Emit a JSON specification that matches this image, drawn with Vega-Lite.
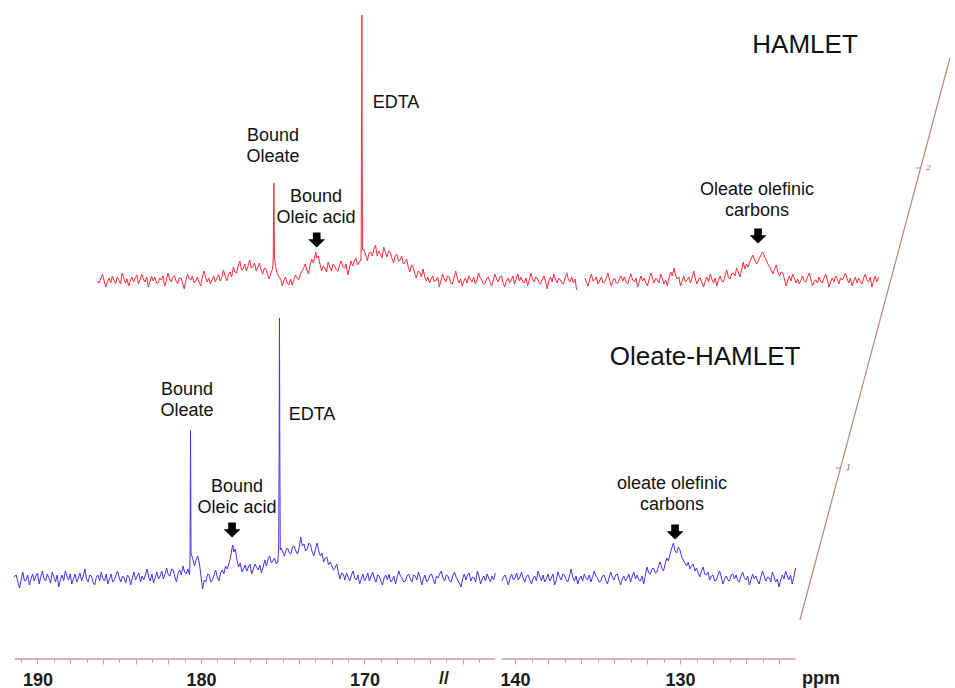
{
"$schema": "https://vega.github.io/schema/vega-lite/v6.json",
"width": 955, "height": 659,
"autosize": {"type": "none"},
"padding": {"left": 0, "top": 0, "right": 0, "bottom": 29},
"background": "white",
"config": {"view": {"stroke": null}},
"datasets": {
"blue": [
{"s":1,"x":191.45,"y":1},{"s":1,"x":191.3,"y":3},{"s":1,"x":191.2,"y":-4},{"s":1,"x":191.1,"y":-10},{"s":1,"x":191.0,"y":-2},{"s":1,"x":190.9,"y":6},{"s":1,"x":190.8,"y":-3},{"s":1,"x":190.7,"y":-2},{"s":1,"x":190.6,"y":3},{"s":1,"x":190.5,"y":-7},{"s":1,"x":190.4,"y":-1},{"s":1,"x":190.3,"y":4},{"s":1,"x":190.2,"y":-3},{"s":1,"x":190.1,"y":2},{"s":1,"x":190.0,"y":5},{"s":1,"x":189.9,"y":-6},{"s":1,"x":189.8,"y":1},{"s":1,"x":189.7,"y":7},{"s":1,"x":189.6,"y":-1},{"s":1,"x":189.5,"y":-3},{"s":1,"x":189.4,"y":4},{"s":1,"x":189.3,"y":0},{"s":1,"x":189.2,"y":-5},{"s":1,"x":189.1,"y":6},{"s":1,"x":189.0,"y":1},{"s":1,"x":188.9,"y":-4},{"s":1,"x":188.8,"y":3},{"s":1,"x":188.7,"y":-9},{"s":1,"x":188.6,"y":-2},{"s":1,"x":188.5,"y":3},{"s":1,"x":188.4,"y":-3},{"s":1,"x":188.3,"y":7},{"s":1,"x":188.2,"y":2},{"s":1,"x":188.1,"y":-2},{"s":1,"x":188.0,"y":4},{"s":1,"x":187.9,"y":-6},{"s":1,"x":187.8,"y":-1},{"s":1,"x":187.7,"y":4},{"s":1,"x":187.6,"y":-4},{"s":1,"x":187.5,"y":0},{"s":1,"x":187.4,"y":5},{"s":1,"x":187.3,"y":-3},{"s":1,"x":187.2,"y":2},{"s":1,"x":187.1,"y":9},{"s":1,"x":187.0,"y":-1},{"s":1,"x":186.9,"y":-4},{"s":1,"x":186.8,"y":3},{"s":1,"x":186.7,"y":2},{"s":1,"x":186.6,"y":-4},{"s":1,"x":186.5,"y":-7},{"s":1,"x":186.4,"y":1},{"s":1,"x":186.3,"y":3},{"s":1,"x":186.2,"y":-3},{"s":1,"x":186.1,"y":6},{"s":1,"x":186.0,"y":-1},{"s":1,"x":185.9,"y":-3},{"s":1,"x":185.8,"y":4},{"s":1,"x":185.7,"y":-6},{"s":1,"x":185.6,"y":-1},{"s":1,"x":185.5,"y":4},{"s":1,"x":185.4,"y":-4},{"s":1,"x":185.3,"y":-2},{"s":1,"x":185.2,"y":3},{"s":1,"x":185.1,"y":7},{"s":1,"x":185.0,"y":0},{"s":1,"x":184.9,"y":-4},{"s":1,"x":184.8,"y":2},{"s":1,"x":184.7,"y":0},{"s":1,"x":184.6,"y":-5},{"s":1,"x":184.5,"y":3},{"s":1,"x":184.4,"y":1},{"s":1,"x":184.3,"y":-7},{"s":1,"x":184.2,"y":0},{"s":1,"x":184.1,"y":6},{"s":1,"x":184.0,"y":-2},{"s":1,"x":183.9,"y":2},{"s":1,"x":183.8,"y":5},{"s":1,"x":183.7,"y":-4},{"s":1,"x":183.6,"y":2},{"s":1,"x":183.5,"y":-2},{"s":1,"x":183.4,"y":3},{"s":1,"x":183.3,"y":9},{"s":1,"x":183.2,"y":1},{"s":1,"x":183.1,"y":-3},{"s":1,"x":183.0,"y":4},{"s":1,"x":182.9,"y":-5},{"s":1,"x":182.8,"y":0},{"s":1,"x":182.7,"y":6},{"s":1,"x":182.6,"y":-1},{"s":1,"x":182.5,"y":2},{"s":1,"x":182.4,"y":7},{"s":1,"x":182.3,"y":-1},{"s":1,"x":182.2,"y":4},{"s":1,"x":182.1,"y":10},{"s":1,"x":182.0,"y":3},{"s":1,"x":181.9,"y":2},{"s":1,"x":181.8,"y":9},{"s":1,"x":181.7,"y":8},{"s":1,"x":181.6,"y":1},{"s":1,"x":181.5,"y":-4},{"s":1,"x":181.4,"y":5},{"s":1,"x":181.3,"y":8},{"s":1,"x":181.2,"y":3},{"s":1,"x":181.1,"y":12},{"s":1,"x":181.0,"y":6},{"s":1,"x":180.9,"y":4},{"s":1,"x":180.8,"y":9},{"s":1,"x":180.7,"y":3},{"s":1,"x":180.67,"y":20},{"s":1,"x":180.64,"y":148},{"s":1,"x":180.61,"y":25},{"s":1,"x":180.5,"y":19},{"s":1,"x":180.4,"y":12},{"s":1,"x":180.3,"y":18},{"s":1,"x":180.2,"y":22},{"s":1,"x":180.1,"y":15},{"s":1,"x":180.0,"y":2},{"s":1,"x":179.9,"y":-11},{"s":1,"x":179.8,"y":-2},{"s":1,"x":179.7,"y":-4},{"s":1,"x":179.6,"y":4},{"s":1,"x":179.5,"y":3},{"s":1,"x":179.4,"y":-4},{"s":1,"x":179.3,"y":-2},{"s":1,"x":179.2,"y":3},{"s":1,"x":179.1,"y":8},{"s":1,"x":179.0,"y":1},{"s":1,"x":178.9,"y":-3},{"s":1,"x":178.8,"y":5},{"s":1,"x":178.7,"y":8},{"s":1,"x":178.6,"y":4},{"s":1,"x":178.5,"y":12},{"s":1,"x":178.4,"y":9},{"s":1,"x":178.3,"y":14},{"s":1,"x":178.2,"y":20},{"s":1,"x":178.1,"y":30},{"s":1,"x":178.05,"y":33},{"s":1,"x":178.0,"y":26},{"s":1,"x":177.9,"y":29},{"s":1,"x":177.8,"y":18},{"s":1,"x":177.7,"y":11},{"s":1,"x":177.6,"y":15},{"s":1,"x":177.5,"y":6},{"s":1,"x":177.4,"y":9},{"s":1,"x":177.3,"y":13},{"s":1,"x":177.2,"y":7},{"s":1,"x":177.1,"y":11},{"s":1,"x":177.0,"y":14},{"s":1,"x":176.9,"y":4},{"s":1,"x":176.8,"y":9},{"s":1,"x":176.7,"y":14},{"s":1,"x":176.6,"y":11},{"s":1,"x":176.5,"y":8},{"s":1,"x":176.4,"y":13},{"s":1,"x":176.3,"y":5},{"s":1,"x":176.2,"y":11},{"s":1,"x":176.1,"y":18},{"s":1,"x":176.0,"y":12},{"s":1,"x":175.9,"y":19},{"s":1,"x":175.8,"y":22},{"s":1,"x":175.7,"y":15},{"s":1,"x":175.6,"y":17},{"s":1,"x":175.5,"y":20},{"s":1,"x":175.4,"y":14},{"s":1,"x":175.3,"y":16},{"s":1,"x":175.25,"y":30},{"s":1,"x":175.22,"y":130},{"s":1,"x":175.2,"y":260},{"s":1,"x":175.18,"y":130},{"s":1,"x":175.15,"y":28},{"s":1,"x":175.1,"y":30},{"s":1,"x":175.0,"y":26},{"s":1,"x":174.9,"y":22},{"s":1,"x":174.8,"y":28},{"s":1,"x":174.7,"y":30},{"s":1,"x":174.6,"y":25},{"s":1,"x":174.5,"y":24},{"s":1,"x":174.4,"y":31},{"s":1,"x":174.3,"y":32},{"s":1,"x":174.2,"y":27},{"s":1,"x":174.1,"y":24},{"s":1,"x":174.0,"y":30},{"s":1,"x":173.9,"y":41},{"s":1,"x":173.8,"y":32},{"s":1,"x":173.7,"y":34},{"s":1,"x":173.6,"y":27},{"s":1,"x":173.5,"y":29},{"s":1,"x":173.4,"y":35},{"s":1,"x":173.3,"y":33},{"s":1,"x":173.2,"y":26},{"s":1,"x":173.1,"y":22},{"s":1,"x":173.0,"y":29},{"s":1,"x":172.9,"y":35},{"s":1,"x":172.8,"y":27},{"s":1,"x":172.7,"y":22},{"s":1,"x":172.6,"y":25},{"s":1,"x":172.5,"y":16},{"s":1,"x":172.4,"y":20},{"s":1,"x":172.3,"y":21},{"s":1,"x":172.2,"y":13},{"s":1,"x":172.1,"y":16},{"s":1,"x":172.0,"y":12},{"s":1,"x":171.9,"y":8},{"s":1,"x":171.8,"y":10},{"s":1,"x":171.7,"y":14},{"s":1,"x":171.6,"y":6},{"s":1,"x":171.5,"y":-1},{"s":1,"x":171.4,"y":5},{"s":1,"x":171.3,"y":4},{"s":1,"x":171.2,"y":-2},{"s":1,"x":171.1,"y":5},{"s":1,"x":171.0,"y":1},{"s":1,"x":170.9,"y":-3},{"s":1,"x":170.8,"y":3},{"s":1,"x":170.7,"y":7},{"s":1,"x":170.6,"y":0},{"s":1,"x":170.5,"y":-2},{"s":1,"x":170.4,"y":3},{"s":1,"x":170.3,"y":-6},{"s":1,"x":170.2,"y":-1},{"s":1,"x":170.1,"y":4},{"s":1,"x":170.0,"y":-3},{"s":1,"x":169.9,"y":0},{"s":1,"x":169.8,"y":5},{"s":1,"x":169.7,"y":-3},{"s":1,"x":169.6,"y":2},{"s":1,"x":169.5,"y":6},{"s":1,"x":169.4,"y":0},{"s":1,"x":169.3,"y":-4},{"s":1,"x":169.2,"y":3},{"s":1,"x":169.1,"y":2},{"s":1,"x":169.0,"y":-3},{"s":1,"x":168.9,"y":-7},{"s":1,"x":168.8,"y":0},{"s":1,"x":168.7,"y":3},{"s":1,"x":168.6,"y":-2},{"s":1,"x":168.5,"y":4},{"s":1,"x":168.4,"y":-4},{"s":1,"x":168.3,"y":-2},{"s":1,"x":168.2,"y":2},{"s":1,"x":168.1,"y":-6},{"s":1,"x":168.0,"y":1},{"s":1,"x":167.9,"y":7},{"s":1,"x":167.8,"y":2},{"s":1,"x":167.7,"y":0},{"s":1,"x":167.6,"y":-4},{"s":1,"x":167.5,"y":-3},{"s":1,"x":167.4,"y":2},{"s":1,"x":167.3,"y":4},{"s":1,"x":167.2,"y":-1},{"s":1,"x":167.1,"y":-4},{"s":1,"x":167.0,"y":3},{"s":1,"x":166.9,"y":2},{"s":1,"x":166.8,"y":-2},{"s":1,"x":166.7,"y":6},{"s":1,"x":166.6,"y":1},{"s":1,"x":166.5,"y":-7},{"s":1,"x":166.4,"y":-1},{"s":1,"x":166.3,"y":3},{"s":1,"x":166.2,"y":-4},{"s":1,"x":166.1,"y":-2},{"s":1,"x":166.0,"y":3},{"s":1,"x":165.9,"y":4},{"s":1,"x":165.8,"y":-1},{"s":1,"x":165.7,"y":-6},{"s":1,"x":165.6,"y":2},{"s":1,"x":165.5,"y":0},{"s":1,"x":165.4,"y":4},{"s":1,"x":165.3,"y":7},{"s":1,"x":165.2,"y":0},{"s":1,"x":165.1,"y":-3},{"s":1,"x":165.0,"y":3},{"s":1,"x":164.9,"y":2},{"s":1,"x":164.8,"y":-3},{"s":1,"x":164.7,"y":-4},{"s":1,"x":164.6,"y":2},{"s":1,"x":164.5,"y":6},{"s":1,"x":164.4,"y":1},{"s":1,"x":164.3,"y":-2},{"s":1,"x":164.2,"y":-5},{"s":1,"x":164.1,"y":-9},{"s":1,"x":164.0,"y":-1},{"s":1,"x":163.9,"y":4},{"s":1,"x":163.8,"y":-2},{"s":1,"x":163.7,"y":3},{"s":1,"x":163.6,"y":5},{"s":1,"x":163.5,"y":-3},{"s":1,"x":163.4,"y":1},{"s":1,"x":163.3,"y":0},{"s":1,"x":163.2,"y":-4},{"s":1,"x":163.1,"y":7},{"s":1,"x":163.0,"y":2},{"s":1,"x":162.9,"y":-6},{"s":1,"x":162.8,"y":-1},{"s":1,"x":162.7,"y":2},{"s":1,"x":162.6,"y":-3},{"s":1,"x":162.5,"y":4},{"s":1,"x":162.4,"y":0},{"s":1,"x":162.3,"y":-4},{"s":1,"x":162.2,"y":2},{"s":1,"x":162.1,"y":-2},{"s":1,"x":162.0,"y":5},
{"s":2,"x":140.8,"y":-3},{"s":2,"x":140.7,"y":1},{"s":2,"x":140.6,"y":3},{"s":2,"x":140.5,"y":-2},{"s":2,"x":140.4,"y":-7},{"s":2,"x":140.3,"y":0},{"s":2,"x":140.2,"y":4},{"s":2,"x":140.1,"y":-2},{"s":2,"x":140.0,"y":0},{"s":2,"x":139.9,"y":5},{"s":2,"x":139.8,"y":-2},{"s":2,"x":139.7,"y":1},{"s":2,"x":139.6,"y":6},{"s":2,"x":139.5,"y":-1},{"s":2,"x":139.4,"y":-4},{"s":2,"x":139.3,"y":2},{"s":2,"x":139.2,"y":3},{"s":2,"x":139.1,"y":-2},{"s":2,"x":139.0,"y":-6},{"s":2,"x":138.9,"y":0},{"s":2,"x":138.8,"y":2},{"s":2,"x":138.7,"y":-3},{"s":2,"x":138.6,"y":7},{"s":2,"x":138.5,"y":2},{"s":2,"x":138.4,"y":-3},{"s":2,"x":138.3,"y":3},{"s":2,"x":138.2,"y":-4},{"s":2,"x":138.1,"y":-1},{"s":2,"x":138.0,"y":4},{"s":2,"x":137.9,"y":-3},{"s":2,"x":137.8,"y":0},{"s":2,"x":137.7,"y":4},{"s":2,"x":137.6,"y":-7},{"s":2,"x":137.5,"y":-2},{"s":2,"x":137.4,"y":6},{"s":2,"x":137.3,"y":1},{"s":2,"x":137.2,"y":-2},{"s":2,"x":137.1,"y":4},{"s":2,"x":137.0,"y":3},{"s":2,"x":136.9,"y":-2},{"s":2,"x":136.8,"y":-4},{"s":2,"x":136.7,"y":2},{"s":2,"x":136.6,"y":9},{"s":2,"x":136.5,"y":1},{"s":2,"x":136.4,"y":-3},{"s":2,"x":136.3,"y":2},{"s":2,"x":136.2,"y":-6},{"s":2,"x":136.1,"y":-1},{"s":2,"x":136.0,"y":2},{"s":2,"x":135.9,"y":-3},{"s":2,"x":135.8,"y":4},{"s":2,"x":135.7,"y":0},{"s":2,"x":135.6,"y":-2},{"s":2,"x":135.5,"y":3},{"s":2,"x":135.4,"y":-4},{"s":2,"x":135.3,"y":1},{"s":2,"x":135.2,"y":7},{"s":2,"x":135.1,"y":2},{"s":2,"x":135.0,"y":0},{"s":2,"x":134.9,"y":-4},{"s":2,"x":134.8,"y":-3},{"s":2,"x":134.7,"y":2},{"s":2,"x":134.6,"y":3},{"s":2,"x":134.5,"y":-2},{"s":2,"x":134.4,"y":-6},{"s":2,"x":134.3,"y":0},{"s":2,"x":134.2,"y":6},{"s":2,"x":134.1,"y":1},{"s":2,"x":134.0,"y":-2},{"s":2,"x":133.9,"y":3},{"s":2,"x":133.8,"y":4},{"s":2,"x":133.7,"y":-2},{"s":2,"x":133.6,"y":-7},{"s":2,"x":133.5,"y":-1},{"s":2,"x":133.4,"y":2},{"s":2,"x":133.3,"y":-3},{"s":2,"x":133.2,"y":0},{"s":2,"x":133.1,"y":4},{"s":2,"x":133.0,"y":-4},{"s":2,"x":132.9,"y":1},{"s":2,"x":132.8,"y":6},{"s":2,"x":132.7,"y":-1},{"s":2,"x":132.6,"y":3},{"s":2,"x":132.5,"y":-2},{"s":2,"x":132.4,"y":-3},{"s":2,"x":132.3,"y":2},{"s":2,"x":132.2,"y":-6},{"s":2,"x":132.1,"y":3},{"s":2,"x":132.0,"y":11},{"s":2,"x":131.9,"y":5},{"s":2,"x":131.8,"y":4},{"s":2,"x":131.7,"y":9},{"s":2,"x":131.6,"y":10},{"s":2,"x":131.5,"y":5},{"s":2,"x":131.4,"y":6},{"s":2,"x":131.3,"y":12},{"s":2,"x":131.2,"y":16},{"s":2,"x":131.1,"y":10},{"s":2,"x":131.0,"y":7},{"s":2,"x":130.9,"y":14},{"s":2,"x":130.8,"y":20},{"s":2,"x":130.7,"y":17},{"s":2,"x":130.6,"y":24},{"s":2,"x":130.5,"y":30},{"s":2,"x":130.4,"y":35},{"s":2,"x":130.3,"y":27},{"s":2,"x":130.2,"y":25},{"s":2,"x":130.1,"y":31},{"s":2,"x":130.0,"y":28},{"s":2,"x":129.9,"y":21},{"s":2,"x":129.8,"y":18},{"s":2,"x":129.7,"y":15},{"s":2,"x":129.6,"y":12},{"s":2,"x":129.5,"y":16},{"s":2,"x":129.4,"y":9},{"s":2,"x":129.3,"y":12},{"s":2,"x":129.2,"y":14},{"s":2,"x":129.1,"y":7},{"s":2,"x":129.0,"y":10},{"s":2,"x":128.9,"y":5},{"s":2,"x":128.8,"y":1},{"s":2,"x":128.7,"y":7},{"s":2,"x":128.6,"y":11},{"s":2,"x":128.5,"y":4},{"s":2,"x":128.4,"y":3},{"s":2,"x":128.3,"y":6},{"s":2,"x":128.2,"y":-2},{"s":2,"x":128.1,"y":2},{"s":2,"x":128.0,"y":3},{"s":2,"x":127.9,"y":-3},{"s":2,"x":127.8,"y":-2},{"s":2,"x":127.7,"y":3},{"s":2,"x":127.6,"y":7},{"s":2,"x":127.5,"y":1},{"s":2,"x":127.4,"y":-6},{"s":2,"x":127.3,"y":-1},{"s":2,"x":127.2,"y":2},{"s":2,"x":127.1,"y":-2},{"s":2,"x":127.0,"y":-3},{"s":2,"x":126.9,"y":3},{"s":2,"x":126.8,"y":4},{"s":2,"x":126.7,"y":-1},{"s":2,"x":126.6,"y":3},{"s":2,"x":126.5,"y":-3},{"s":2,"x":126.4,"y":-4},{"s":2,"x":126.3,"y":2},{"s":2,"x":126.2,"y":6},{"s":2,"x":126.1,"y":0},{"s":2,"x":126.0,"y":-2},{"s":2,"x":125.9,"y":2},{"s":2,"x":125.8,"y":-7},{"s":2,"x":125.7,"y":-2},{"s":2,"x":125.6,"y":4},{"s":2,"x":125.5,"y":-1},{"s":2,"x":125.4,"y":2},{"s":2,"x":125.3,"y":-3},{"s":2,"x":125.2,"y":-6},{"s":2,"x":125.1,"y":1},{"s":2,"x":125.0,"y":7},{"s":2,"x":124.9,"y":2},{"s":2,"x":124.8,"y":-3},{"s":2,"x":124.7,"y":1},{"s":2,"x":124.6,"y":0},{"s":2,"x":124.5,"y":-4},{"s":2,"x":124.4,"y":6},{"s":2,"x":124.3,"y":1},{"s":2,"x":124.2,"y":-4},{"s":2,"x":124.1,"y":-1},{"s":2,"x":124.0,"y":-9},{"s":2,"x":123.9,"y":-2},{"s":2,"x":123.8,"y":3},{"s":2,"x":123.7,"y":-1},{"s":2,"x":123.6,"y":7},{"s":2,"x":123.5,"y":2},{"s":2,"x":123.4,"y":-2},{"s":2,"x":123.3,"y":3},{"s":2,"x":123.2,"y":-6},{"s":2,"x":123.1,"y":1},{"s":2,"x":123.0,"y":10}
],
"red": [
{"s":1,"x":191.45,"y":-1},{"s":1,"x":191.3,"y":-3},{"s":1,"x":191.2,"y":2},{"s":1,"x":191.1,"y":6},{"s":1,"x":191.0,"y":-1},{"s":1,"x":190.9,"y":-7},{"s":1,"x":190.8,"y":-2},{"s":1,"x":190.7,"y":2},{"s":1,"x":190.6,"y":-3},{"s":1,"x":190.5,"y":4},{"s":1,"x":190.4,"y":0},{"s":1,"x":190.3,"y":-4},{"s":1,"x":190.2,"y":3},{"s":1,"x":190.1,"y":0},{"s":1,"x":190.0,"y":-4},{"s":1,"x":189.9,"y":7},{"s":1,"x":189.8,"y":2},{"s":1,"x":189.7,"y":-3},{"s":1,"x":189.6,"y":1},{"s":1,"x":189.5,"y":-6},{"s":1,"x":189.4,"y":-1},{"s":1,"x":189.3,"y":3},{"s":1,"x":189.2,"y":-2},{"s":1,"x":189.1,"y":2},{"s":1,"x":189.0,"y":5},{"s":1,"x":188.9,"y":-4},{"s":1,"x":188.8,"y":0},{"s":1,"x":188.7,"y":6},{"s":1,"x":188.6,"y":1},{"s":1,"x":188.5,"y":-2},{"s":1,"x":188.4,"y":3},{"s":1,"x":188.3,"y":-7},{"s":1,"x":188.2,"y":-2},{"s":1,"x":188.1,"y":4},{"s":1,"x":188.0,"y":-1},{"s":1,"x":187.9,"y":3},{"s":1,"x":187.8,"y":-3},{"s":1,"x":187.7,"y":-3},{"s":1,"x":187.6,"y":2},{"s":1,"x":187.5,"y":0},{"s":1,"x":187.4,"y":4},{"s":1,"x":187.3,"y":-6},{"s":1,"x":187.2,"y":-1},{"s":1,"x":187.1,"y":7},{"s":1,"x":187.0,"y":1},{"s":1,"x":186.9,"y":-2},{"s":1,"x":186.8,"y":3},{"s":1,"x":186.7,"y":4},{"s":1,"x":186.6,"y":-1},{"s":1,"x":186.5,"y":-4},{"s":1,"x":186.4,"y":2},{"s":1,"x":186.3,"y":2},{"s":1,"x":186.2,"y":-3},{"s":1,"x":186.1,"y":-9},{"s":1,"x":186.0,"y":0},{"s":1,"x":185.9,"y":6},{"s":1,"x":185.8,"y":1},{"s":1,"x":185.7,"y":0},{"s":1,"x":185.6,"y":4},{"s":1,"x":185.5,"y":-3},{"s":1,"x":185.4,"y":-1},{"s":1,"x":185.3,"y":3},{"s":1,"x":185.2,"y":-2},{"s":1,"x":185.1,"y":-6},{"s":1,"x":185.0,"y":2},{"s":1,"x":184.9,"y":9},{"s":1,"x":184.8,"y":3},{"s":1,"x":184.7,"y":-2},{"s":1,"x":184.6,"y":2},{"s":1,"x":184.5,"y":-4},{"s":1,"x":184.4,"y":0},{"s":1,"x":184.3,"y":4},{"s":1,"x":184.2,"y":-2},{"s":1,"x":184.1,"y":2},{"s":1,"x":184.0,"y":5},{"s":1,"x":183.9,"y":-1},{"s":1,"x":183.8,"y":3},{"s":1,"x":183.7,"y":10},{"s":1,"x":183.6,"y":4},{"s":1,"x":183.5,"y":-1},{"s":1,"x":183.4,"y":5},{"s":1,"x":183.3,"y":8},{"s":1,"x":183.2,"y":3},{"s":1,"x":183.1,"y":13},{"s":1,"x":183.0,"y":8},{"s":1,"x":182.9,"y":7},{"s":1,"x":182.8,"y":14},{"s":1,"x":182.7,"y":19},{"s":1,"x":182.6,"y":10},{"s":1,"x":182.5,"y":11},{"s":1,"x":182.4,"y":16},{"s":1,"x":182.3,"y":9},{"s":1,"x":182.2,"y":14},{"s":1,"x":182.1,"y":20},{"s":1,"x":182.0,"y":12},{"s":1,"x":181.9,"y":13},{"s":1,"x":181.8,"y":17},{"s":1,"x":181.7,"y":9},{"s":1,"x":181.6,"y":13},{"s":1,"x":181.5,"y":17},{"s":1,"x":181.4,"y":10},{"s":1,"x":181.3,"y":6},{"s":1,"x":181.2,"y":12},{"s":1,"x":181.1,"y":11},{"s":1,"x":181.0,"y":5},{"s":1,"x":180.9,"y":1},{"s":1,"x":180.8,"y":7},{"s":1,"x":180.7,"y":11},{"s":1,"x":180.66,"y":20},{"s":1,"x":180.62,"y":97},{"s":1,"x":180.58,"y":22},{"s":1,"x":180.5,"y":12},{"s":1,"x":180.4,"y":6},{"s":1,"x":180.3,"y":3},{"s":1,"x":180.2,"y":1},{"s":1,"x":180.1,"y":-6},{"s":1,"x":180.0,"y":0},{"s":1,"x":179.9,"y":3},{"s":1,"x":179.8,"y":-3},{"s":1,"x":179.7,"y":-5},{"s":1,"x":179.6,"y":1},{"s":1,"x":179.5,"y":-5},{"s":1,"x":179.4,"y":0},{"s":1,"x":179.3,"y":5},{"s":1,"x":179.2,"y":2},{"s":1,"x":179.1,"y":0},{"s":1,"x":179.0,"y":6},{"s":1,"x":178.9,"y":9},{"s":1,"x":178.8,"y":12},{"s":1,"x":178.7,"y":16},{"s":1,"x":178.6,"y":10},{"s":1,"x":178.5,"y":6},{"s":1,"x":178.4,"y":15},{"s":1,"x":178.3,"y":21},{"s":1,"x":178.2,"y":17},{"s":1,"x":178.1,"y":25},{"s":1,"x":178.05,"y":28},{"s":1,"x":178.0,"y":22},{"s":1,"x":177.9,"y":24},{"s":1,"x":177.8,"y":16},{"s":1,"x":177.7,"y":9},{"s":1,"x":177.6,"y":14},{"s":1,"x":177.5,"y":12},{"s":1,"x":177.4,"y":8},{"s":1,"x":177.3,"y":18},{"s":1,"x":177.2,"y":13},{"s":1,"x":177.1,"y":9},{"s":1,"x":177.0,"y":16},{"s":1,"x":176.9,"y":14},{"s":1,"x":176.8,"y":10},{"s":1,"x":176.7,"y":9},{"s":1,"x":176.6,"y":15},{"s":1,"x":176.5,"y":19},{"s":1,"x":176.4,"y":13},{"s":1,"x":176.3,"y":12},{"s":1,"x":176.2,"y":16},{"s":1,"x":176.1,"y":5},{"s":1,"x":176.0,"y":12},{"s":1,"x":175.9,"y":19},{"s":1,"x":175.8,"y":14},{"s":1,"x":175.7,"y":19},{"s":1,"x":175.6,"y":22},{"s":1,"x":175.5,"y":15},{"s":1,"x":175.4,"y":18},{"s":1,"x":175.3,"y":20},{"s":1,"x":175.28,"y":30},{"s":1,"x":175.26,"y":140},{"s":1,"x":175.24,"y":265},{"s":1,"x":175.22,"y":140},{"s":1,"x":175.19,"y":30},{"s":1,"x":175.1,"y":30},{"s":1,"x":175.0,"y":25},{"s":1,"x":174.9,"y":19},{"s":1,"x":174.8,"y":27},{"s":1,"x":174.7,"y":28},{"s":1,"x":174.6,"y":24},{"s":1,"x":174.5,"y":31},{"s":1,"x":174.4,"y":35},{"s":1,"x":174.3,"y":24},{"s":1,"x":174.2,"y":29},{"s":1,"x":174.1,"y":26},{"s":1,"x":174.0,"y":22},{"s":1,"x":173.9,"y":33},{"s":1,"x":173.8,"y":28},{"s":1,"x":173.7,"y":23},{"s":1,"x":173.6,"y":29},{"s":1,"x":173.5,"y":28},{"s":1,"x":173.4,"y":22},{"s":1,"x":173.3,"y":17},{"s":1,"x":173.2,"y":24},{"s":1,"x":173.1,"y":26},{"s":1,"x":173.0,"y":19},{"s":1,"x":172.9,"y":20},{"s":1,"x":172.8,"y":24},{"s":1,"x":172.7,"y":16},{"s":1,"x":172.6,"y":18},{"s":1,"x":172.5,"y":21},{"s":1,"x":172.4,"y":13},{"s":1,"x":172.3,"y":8},{"s":1,"x":172.2,"y":15},{"s":1,"x":172.1,"y":13},{"s":1,"x":172.0,"y":6},{"s":1,"x":171.9,"y":2},{"s":1,"x":171.8,"y":9},{"s":1,"x":171.7,"y":8},{"s":1,"x":171.6,"y":3},{"s":1,"x":171.5,"y":11},{"s":1,"x":171.4,"y":4},{"s":1,"x":171.3,"y":-1},{"s":1,"x":171.2,"y":3},{"s":1,"x":171.1,"y":-3},{"s":1,"x":171.0,"y":1},{"s":1,"x":170.9,"y":4},{"s":1,"x":170.8,"y":-2},{"s":1,"x":170.7,"y":0},{"s":1,"x":170.6,"y":3},{"s":1,"x":170.5,"y":-7},{"s":1,"x":170.4,"y":-1},{"s":1,"x":170.3,"y":6},{"s":1,"x":170.2,"y":1},{"s":1,"x":170.1,"y":-2},{"s":1,"x":170.0,"y":4},{"s":1,"x":169.9,"y":3},{"s":1,"x":169.8,"y":-3},{"s":1,"x":169.7,"y":-4},{"s":1,"x":169.6,"y":2},{"s":1,"x":169.5,"y":9},{"s":1,"x":169.4,"y":2},{"s":1,"x":169.3,"y":-3},{"s":1,"x":169.2,"y":1},{"s":1,"x":169.1,"y":-6},{"s":1,"x":169.0,"y":-1},{"s":1,"x":168.9,"y":2},{"s":1,"x":168.8,"y":-3},{"s":1,"x":168.7,"y":4},{"s":1,"x":168.6,"y":1},{"s":1,"x":168.5,"y":-2},{"s":1,"x":168.4,"y":3},{"s":1,"x":168.3,"y":-4},{"s":1,"x":168.2,"y":0},{"s":1,"x":168.1,"y":7},{"s":1,"x":168.0,"y":2},{"s":1,"x":167.9,"y":0},{"s":1,"x":167.8,"y":-4},{"s":1,"x":167.7,"y":-3},{"s":1,"x":167.6,"y":2},{"s":1,"x":167.5,"y":3},{"s":1,"x":167.4,"y":-2},{"s":1,"x":167.3,"y":-6},{"s":1,"x":167.2,"y":0},{"s":1,"x":167.1,"y":6},{"s":1,"x":167.0,"y":1},{"s":1,"x":166.9,"y":-2},{"s":1,"x":166.8,"y":3},{"s":1,"x":166.7,"y":4},{"s":1,"x":166.6,"y":-3},{"s":1,"x":166.5,"y":-7},{"s":1,"x":166.4,"y":-1},{"s":1,"x":166.3,"y":2},{"s":1,"x":166.2,"y":-3},{"s":1,"x":166.1,"y":0},{"s":1,"x":166.0,"y":4},{"s":1,"x":165.9,"y":-4},{"s":1,"x":165.8,"y":1},{"s":1,"x":165.7,"y":6},{"s":1,"x":165.6,"y":-1},{"s":1,"x":165.5,"y":3},{"s":1,"x":165.4,"y":-2},{"s":1,"x":165.3,"y":-3},{"s":1,"x":165.2,"y":2},{"s":1,"x":165.1,"y":-6},{"s":1,"x":165.0,"y":0},{"s":1,"x":164.9,"y":7},{"s":1,"x":164.8,"y":1},{"s":1,"x":164.7,"y":-2},{"s":1,"x":164.6,"y":3},{"s":1,"x":164.5,"y":2},{"s":1,"x":164.4,"y":-3},{"s":1,"x":164.3,"y":-4},{"s":1,"x":164.2,"y":1},{"s":1,"x":164.1,"y":4},{"s":1,"x":164.0,"y":-2},{"s":1,"x":163.9,"y":-9},{"s":1,"x":163.8,"y":-1},{"s":1,"x":163.7,"y":3},{"s":1,"x":163.6,"y":-2},{"s":1,"x":163.5,"y":6},{"s":1,"x":163.4,"y":1},{"s":1,"x":163.3,"y":-3},{"s":1,"x":163.2,"y":2},{"s":1,"x":163.1,"y":0},{"s":1,"x":163.0,"y":-3},{"s":1,"x":162.9,"y":-4},{"s":1,"x":162.8,"y":3},{"s":1,"x":162.7,"y":7},{"s":1,"x":162.6,"y":0},{"s":1,"x":162.5,"y":-2},{"s":1,"x":162.4,"y":3},{"s":1,"x":162.3,"y":-3},{"s":1,"x":162.2,"y":1},{"s":1,"x":162.1,"y":-10},
{"s":2,"x":140.8,"y":2},{"s":2,"x":140.7,"y":-2},{"s":2,"x":140.6,"y":-6},{"s":2,"x":140.5,"y":1},{"s":2,"x":140.4,"y":6},{"s":2,"x":140.3,"y":-1},{"s":2,"x":140.2,"y":0},{"s":2,"x":140.1,"y":3},{"s":2,"x":140.0,"y":-4},{"s":2,"x":139.9,"y":-1},{"s":2,"x":139.8,"y":3},{"s":2,"x":139.7,"y":-3},{"s":2,"x":139.6,"y":-2},{"s":2,"x":139.5,"y":2},{"s":2,"x":139.4,"y":7},{"s":2,"x":139.3,"y":0},{"s":2,"x":139.2,"y":-6},{"s":2,"x":139.1,"y":-1},{"s":2,"x":139.0,"y":2},{"s":2,"x":138.9,"y":-3},{"s":2,"x":138.8,"y":-3},{"s":2,"x":138.7,"y":1},{"s":2,"x":138.6,"y":4},{"s":2,"x":138.5,"y":-1},{"s":2,"x":138.4,"y":3},{"s":2,"x":138.3,"y":-2},{"s":2,"x":138.2,"y":-4},{"s":2,"x":138.1,"y":2},{"s":2,"x":138.0,"y":6},{"s":2,"x":137.9,"y":0},{"s":2,"x":137.8,"y":-2},{"s":2,"x":137.7,"y":2},{"s":2,"x":137.6,"y":-7},{"s":2,"x":137.5,"y":-2},{"s":2,"x":137.4,"y":4},{"s":2,"x":137.3,"y":-1},{"s":2,"x":137.2,"y":2},{"s":2,"x":137.1,"y":-3},{"s":2,"x":137.0,"y":-6},{"s":2,"x":136.9,"y":1},{"s":2,"x":136.8,"y":7},{"s":2,"x":136.7,"y":2},{"s":2,"x":136.6,"y":-3},{"s":2,"x":136.5,"y":2},{"s":2,"x":136.4,"y":0},{"s":2,"x":136.3,"y":-3},{"s":2,"x":136.2,"y":6},{"s":2,"x":136.1,"y":1},{"s":2,"x":136.0,"y":-4},{"s":2,"x":135.9,"y":0},{"s":2,"x":135.8,"y":-6},{"s":2,"x":135.7,"y":2},{"s":2,"x":135.6,"y":8},{"s":2,"x":135.5,"y":4},{"s":2,"x":135.4,"y":12},{"s":2,"x":135.3,"y":5},{"s":2,"x":135.2,"y":1},{"s":2,"x":135.1,"y":3},{"s":2,"x":135.0,"y":-6},{"s":2,"x":134.9,"y":-1},{"s":2,"x":134.8,"y":4},{"s":2,"x":134.7,"y":-2},{"s":2,"x":134.6,"y":0},{"s":2,"x":134.5,"y":3},{"s":2,"x":134.4,"y":-3},{"s":2,"x":134.3,"y":2},{"s":2,"x":134.2,"y":9},{"s":2,"x":134.1,"y":1},{"s":2,"x":134.0,"y":-4},{"s":2,"x":133.9,"y":1},{"s":2,"x":133.8,"y":2},{"s":2,"x":133.7,"y":-3},{"s":2,"x":133.6,"y":-7},{"s":2,"x":133.5,"y":-1},{"s":2,"x":133.4,"y":3},{"s":2,"x":133.3,"y":-2},{"s":2,"x":133.2,"y":6},{"s":2,"x":133.1,"y":1},{"s":2,"x":133.0,"y":-3},{"s":2,"x":132.9,"y":2},{"s":2,"x":132.8,"y":-6},{"s":2,"x":132.7,"y":0},{"s":2,"x":132.6,"y":4},{"s":2,"x":132.5,"y":-1},{"s":2,"x":132.4,"y":-2},{"s":2,"x":132.3,"y":4},{"s":2,"x":132.2,"y":10},{"s":2,"x":132.1,"y":3},{"s":2,"x":132.0,"y":1},{"s":2,"x":131.9,"y":6},{"s":2,"x":131.8,"y":7},{"s":2,"x":131.7,"y":4},{"s":2,"x":131.6,"y":12},{"s":2,"x":131.5,"y":8},{"s":2,"x":131.4,"y":3},{"s":2,"x":131.3,"y":10},{"s":2,"x":131.2,"y":18},{"s":2,"x":131.1,"y":11},{"s":2,"x":131.0,"y":16},{"s":2,"x":130.9,"y":13},{"s":2,"x":130.8,"y":18},{"s":2,"x":130.7,"y":22},{"s":2,"x":130.6,"y":25},{"s":2,"x":130.5,"y":20},{"s":2,"x":130.4,"y":16},{"s":2,"x":130.3,"y":19},{"s":2,"x":130.2,"y":22},{"s":2,"x":130.1,"y":26},{"s":2,"x":130.0,"y":28},{"s":2,"x":129.9,"y":23},{"s":2,"x":129.8,"y":20},{"s":2,"x":129.7,"y":16},{"s":2,"x":129.6,"y":13},{"s":2,"x":129.5,"y":10},{"s":2,"x":129.4,"y":6},{"s":2,"x":129.3,"y":11},{"s":2,"x":129.2,"y":15},{"s":2,"x":129.1,"y":8},{"s":2,"x":129.0,"y":4},{"s":2,"x":128.9,"y":8},{"s":2,"x":128.8,"y":7},{"s":2,"x":128.7,"y":1},{"s":2,"x":128.6,"y":-6},{"s":2,"x":128.5,"y":0},{"s":2,"x":128.4,"y":4},{"s":2,"x":128.3,"y":-1},{"s":2,"x":128.2,"y":6},{"s":2,"x":128.1,"y":2},{"s":2,"x":128.0,"y":-3},{"s":2,"x":127.9,"y":1},{"s":2,"x":127.8,"y":-4},{"s":2,"x":127.7,"y":0},{"s":2,"x":127.6,"y":4},{"s":2,"x":127.5,"y":-1},{"s":2,"x":127.4,"y":-2},{"s":2,"x":127.3,"y":3},{"s":2,"x":127.2,"y":7},{"s":2,"x":127.1,"y":1},{"s":2,"x":127.0,"y":-6},{"s":2,"x":126.9,"y":-1},{"s":2,"x":126.8,"y":0},{"s":2,"x":126.7,"y":-3},{"s":2,"x":126.6,"y":3},{"s":2,"x":126.5,"y":-2},{"s":2,"x":126.4,"y":-3},{"s":2,"x":126.3,"y":2},{"s":2,"x":126.2,"y":6},{"s":2,"x":126.1,"y":0},{"s":2,"x":126.0,"y":-7},{"s":2,"x":125.9,"y":-2},{"s":2,"x":125.8,"y":2},{"s":2,"x":125.7,"y":-2},{"s":2,"x":125.6,"y":4},{"s":2,"x":125.5,"y":1},{"s":2,"x":125.4,"y":-4},{"s":2,"x":125.3,"y":2},{"s":2,"x":125.2,"y":0},{"s":2,"x":125.1,"y":3},{"s":2,"x":125.0,"y":7},{"s":2,"x":124.9,"y":1},{"s":2,"x":124.8,"y":-3},{"s":2,"x":124.7,"y":2},{"s":2,"x":124.6,"y":-6},{"s":2,"x":124.5,"y":-1},{"s":2,"x":124.4,"y":3},{"s":2,"x":124.3,"y":-3},{"s":2,"x":124.2,"y":2},{"s":2,"x":124.1,"y":-2},{"s":2,"x":124.0,"y":-4},{"s":2,"x":123.9,"y":2},{"s":2,"x":123.8,"y":6},{"s":2,"x":123.7,"y":0},{"s":2,"x":123.6,"y":-2},{"s":2,"x":123.5,"y":3},{"s":2,"x":123.4,"y":-7},{"s":2,"x":123.3,"y":-1},{"s":2,"x":123.2,"y":4},{"s":2,"x":123.1,"y":-2},{"s":2,"x":123.0,"y":3}
]
},
"layer": [
{
"encoding": {
"x": {"field": "x", "type": "quantitative",
"scale": {"domain": [191.4, 162.0, 140.8, 123.0], "range": [14.6, 495.3, 501.8, 795.5], "nice": false, "zero": false},
"axis": {"title": null, "orient": "bottom", "domain": false, "grid": false,
"values": [191,190,189,188,187,186,185,184,183,182,181,180,179,178,177,176,175,174,173,172,171,170,169,168,167,166,165,164,163,140,139,138,137,136,135,134,133,132,131,130,129,128,127,126,125,124],
"format": "d", "labelExpr": "datum.value % 10 === 0 ? datum.label : ''",
"labelOverlap": false, "labelBound": false, "labelFlush": false,
"labelFont": "Liberation Sans", "labelFontWeight": "bold", "labelFontSize": 18, "labelColor": "#1a1a1a",
"labelPadding": 7,
"tickColor": "#c99c9c", "tickWidth": 1,
"tickSize": {"condition": {"test": "datum.value % 2 === 0", "value": 5}, "value": 3}}},
"y": {"field": "y", "type": "quantitative",
"scale": {"domain": [-81, 260], "range": [659, 318], "nice": false, "zero": false}, "axis": null}
},
"layer": [
{"data": {"name": "blue"}, "mark": {"type": "line", "color": "#4433ee", "strokeWidth": 1}, "encoding": {"detail": {"field": "s"}}},
{"data": {"values": [{"x": 191.4, "x2": 162.0, "y": -81}, {"x": 140.8, "x2": 123.0, "y": -81}]}, "mark": {"type": "rule", "color": "#c99c9c", "strokeWidth": 1.3}, "encoding": {"x2": {"field": "x2"}}},
{"data": {"values": [{"x": 122.73, "y": -42, "x2": 113.64, "y2": 520}]}, "mark": {"type": "rule", "color": "#b98585", "strokeWidth": 1.2}, "encoding": {"x2": {"field": "x2"}, "y2": {"field": "y2"}}},
{"data": {"values": [{"x": 115.72, "x2": 115.42, "y": 410}, {"x": 120.57, "x2": 120.27, "y": 110}]}, "mark": {"type": "rule", "color": "#b98585", "strokeWidth": 1}, "encoding": {"x2": {"field": "x2"}}},
{"data": {"values": [{"x": 115.09, "y": 410, "t": "2"}, {"x": 119.94, "y": 110, "t": "1"}]}, "mark": {"type": "text", "font": "DejaVu Serif", "fontStyle": "italic", "fontSize": 8, "color": "#8a6060", "align": "left", "baseline": "middle"}, "encoding": {"text": {"field": "t"}}},
{"data": {"values": [{"x": 165.14, "y": -106, "t": "//"}, {"x": 121.45, "y": -106, "t": "ppm"}]}, "mark": {"type": "text", "font": "Liberation Sans", "fontWeight": "bold", "fontSize": 18, "color": "#1a1a1a", "align": "center", "baseline": "alphabetic"}, "encoding": {"text": {"field": "t"}}},
{"data": {"values": [{"x": 180.86, "y": 188, "t": "Bound\nOleate"}, {"x": 173.21, "y": 163, "t": "EDTA"}, {"x": 177.8, "y": 91, "t": "Bound\nOleic acid"}, {"x": 130.48, "y": 94, "t": "oleate olefinic\ncarbons"}]}, "mark": {"type": "text", "font": "Liberation Sans", "fontSize": 18, "lineHeight": 21, "lineBreak": "\n", "color": "#111111", "align": "center", "baseline": "middle"}, "encoding": {"text": {"field": "t"}}},
{"data": {"values": [{"x": 128.48, "y": 221, "t": "Oleate-HAMLET"}]}, "mark": {"type": "text", "font": "Liberation Sans", "fontSize": 26, "color": "#111111", "align": "center", "baseline": "middle"}, "encoding": {"text": {"field": "t"}}},
{"data": {"values": [{"x": 178.1, "y": 48}, {"x": 130.3, "y": 46}]}, "mark": {"type": "point", "shape": "M-0.45,-0.88L0.45,-0.88L0.45,-0.1L1,-0.1L0,0.88L-1,-0.1L-0.45,-0.1Z", "size": 289, "filled": true, "color": "#000000", "opacity": 1}}
]
},
{
"encoding": {
"x": {"field": "x", "type": "quantitative",
"scale": {"domain": [191.4, 162.0, 140.8, 123.0], "range": [97.6, 578.3, 584.8, 878.5], "nice": false, "zero": false}, "axis": null},
"y": {"field": "y", "type": "quantitative",
"scale": {"domain": [-81, 260], "range": [361, 20], "nice": false, "zero": false}, "axis": null}
},
"layer": [
{"data": {"name": "red"}, "mark": {"type": "line", "color": "#ff2a3a", "strokeWidth": 1}, "encoding": {"detail": {"field": "s"}}},
{"data": {"values": [{"x": 180.67, "y": 144, "t": "Bound\nOleate"}, {"x": 173.15, "y": 177, "t": "EDTA"}, {"x": 178.04, "y": 83, "t": "Bound\nOleic acid"}, {"x": 130.36, "y": 90, "t": "Oleate olefinic\ncarbons"}]}, "mark": {"type": "text", "font": "Liberation Sans", "fontSize": 18, "lineHeight": 21, "lineBreak": "\n", "color": "#111111", "align": "center", "baseline": "middle"}, "encoding": {"text": {"field": "t"}}},
{"data": {"values": [{"x": 127.45, "y": 235, "t": "HAMLET"}]}, "mark": {"type": "text", "font": "Liberation Sans", "fontSize": 26, "color": "#111111", "align": "center", "baseline": "middle"}, "encoding": {"text": {"field": "t"}}},
{"data": {"values": [{"x": 178.0, "y": 40}, {"x": 130.3, "y": 44}]}, "mark": {"type": "point", "shape": "M-0.45,-0.88L0.45,-0.88L0.45,-0.1L1,-0.1L0,0.88L-1,-0.1L-0.45,-0.1Z", "size": 289, "filled": true, "color": "#000000", "opacity": 1}}
]
}
],
"resolve": {"scale": {"x": "independent", "y": "independent"}, "axis": {"x": "independent", "y": "independent"}}
}
